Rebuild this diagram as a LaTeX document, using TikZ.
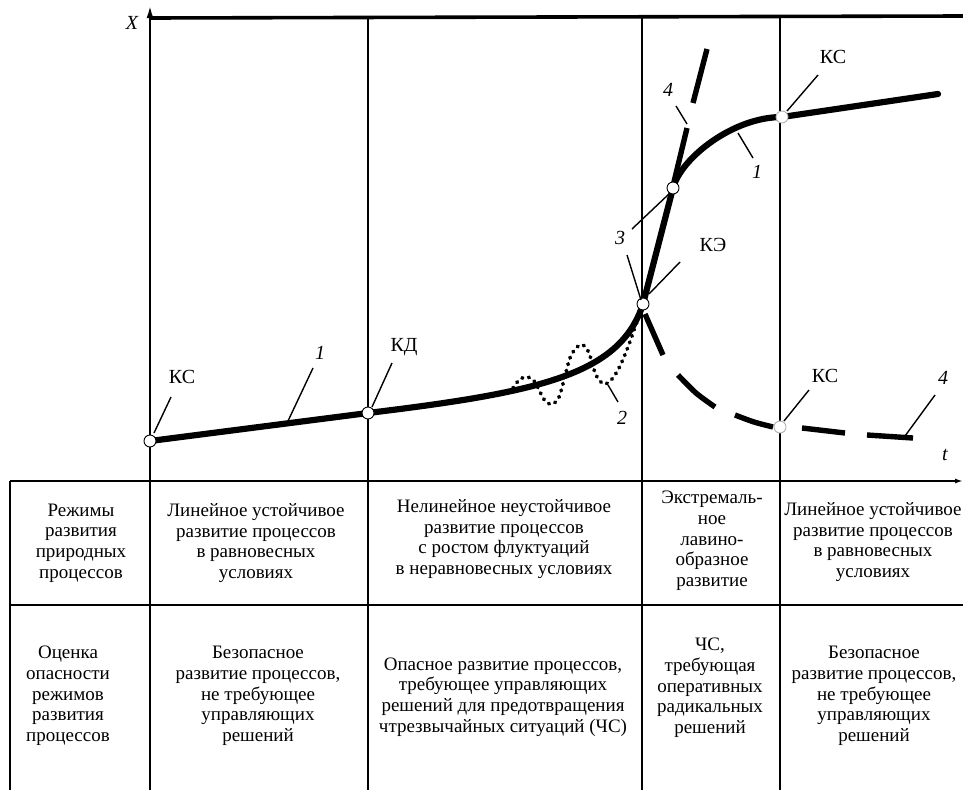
\documentclass[tikz,border=0pt]{standalone}
\usepackage{fontspec}
\setmainfont{Liberation Serif}
\usetikzlibrary{arrows.meta}
\begin{document}
\begin{tikzpicture}[x=1pt,y=-1pt,
  framel/.style={line width=1.9pt},
  tbl/.style={line width=2.3pt},
  topl/.style={line width=3.6pt},
  thickcurve/.style={line width=6.2pt, line cap=round, line join=round},
  dashseg/.style={line width=5.4pt},
  dotcurve/.style={line width=3.8pt, line cap=round, dash pattern=on 0.8pt off 6pt},
  leader/.style={line width=1.4pt},
  pnt/.style={circle, draw, fill=white, line width=0.9pt, minimum size=12pt, inner sep=0pt},
  lbl/.style={font=\fontsize{20}{21}\selectfont, inner sep=0pt},
  num/.style={font=\fontsize{20}{21}\selectfont\itshape, inner sep=0pt},
  cell/.style={align=center, font=\fontsize{19}{20.7}\selectfont, inner sep=0pt}]
\useasboundingbox (0,0) rectangle (963,790);

% frame
\coordinate (axB) at (150,790);
\coordinate (axT) at (150,6);
\coordinate (topL) at (150,18);
\coordinate (topR) at (963,16);
\draw[topl] (topL) -- (topR);
\draw[framel,-{Latex[length=12pt,width=7pt]}] (axB) -- (axT);
\coordinate (v1t) at (368,18); \coordinate (v1b) at (368,790);
\coordinate (v2t) at (642,17); \coordinate (v2b) at (642,790);
\coordinate (v3t) at (780,17); \coordinate (v3b) at (780,790);
\draw[framel] (v1t) -- (v1b);
\draw[framel] (v2t) -- (v2b);
\draw[framel] (v3t) -- (v3b);
% table
\coordinate (h1l) at (10,481); \coordinate (h1r) at (963,481);
\coordinate (h2l) at (10,605); \coordinate (h2r) at (963,605);
\coordinate (lb) at (10,790);
\draw[tbl,-{Latex[length=8pt,width=5pt]}] (h1l) -- (h1r);
\draw[tbl] (h2l) -- (h2r);
\draw[tbl] (h1l) -- (lb);

% curves
\coordinate (KS1c) at (150,441);
\coordinate (KDc) at (368,413);
\coordinate (KEc) at (643,304);
\coordinate (P3c) at (673,188);
\coordinate (KS2c) at (782,117);
\coordinate (KS3c) at (780,427);
\coordinate (endR) at (938,94);

\draw[thickcurve] (KS1c) -- (KDc);
\draw[thickcurve] (KDc) .. controls (540,392) and (620,375) .. (KEc);
\draw[thickcurve] (KEc) -- (P3c);
\draw[thickcurve] (P3c) .. controls (681,158) and (733,117) .. (KS2c);
\draw[thickcurve] (KS2c) -- (endR);

% dotted curve 2
\draw[dotcurve] plot[smooth, tension=0.55] coordinates {(513,388) (520,379) (528,377) (535,382) (540,392) (546,402) (553,404) (559,397) (564,380) (570,358) (577,347) (583,345) (589,353) (596,375) (604,384) (612,379) (620,366) (628,347) (635,327) (641,310)};

% dashed curve 4 (lower)
\draw[dashseg] (645,314) -- (663,355);
\draw[dashseg] plot[smooth] coordinates {(678,375) (696,393) (715,407)};
\draw[dashseg] plot[smooth] coordinates {(735,415) (754,422) (773,427)};
\draw[dashseg] (802,428) -- (845,433);
\draw[dashseg] (867,435) -- (913,438);
% dashed curve 4 (upper)
\draw[dashseg] (673,186) -- (687,128);
\draw[dashseg] (693,103) -- (707,49);

% points
\node[pnt] (KS1) at (KS1c) {};
\node[pnt] (KD) at (KDc) {};
\node[pnt] (KE) at (KEc) {};
\node[pnt] (P3) at (P3c) {};
\node[pnt, draw=gray!60] (KS2) at (KS2c) {};
\node[pnt, draw=gray!60] (KS3) at (KS3c) {};

% labels
\node[num] (Xl) at (132,23) {X};
\node[num] (tl) at (945,455) {t};
\node[lbl] (lKS1) at (182,377) {КС};
\node[num] (l1a) at (320,353) {1};
\node[lbl] (lKD) at (404,347) {КД};
\node[num] (l2) at (622,418) {2};
\node[num] (l3) at (620,238) {3};
\node[num] (l4a) at (668,90) {4};
\node[num] (l1b) at (757,172) {1};
\node[lbl] (lKE) at (713,245) {КЭ};
\node[lbl] (lKS2) at (833,57) {КС};
\node[lbl] (lKS3) at (825,376) {КС};
\node[num] (l4b) at (943,378) {4};

% leaders
\coordinate (a1) at (171,397); \coordinate (a1e) at (154,433);
\draw[leader] (a1) -- (a1e);
\coordinate (b1) at (313,368); \coordinate (b1e) at (288,421);
\draw[leader] (b1) -- (b1e);
\coordinate (c1) at (392,363); \coordinate (c1e) at (372,407);
\draw[leader] (c1) -- (c1e);
\coordinate (d1) at (608,385); \coordinate (d1e) at (618,402);
\draw[leader] (d1e) -- (d1);
\coordinate (e1) at (632,229); \coordinate (e1e) at (670,193);
\draw[leader] (e1) -- (e1e);
\coordinate (e2) at (627,255); \coordinate (e2e) at (641,300);
\draw[leader] (e2) -- (e2e);
\coordinate (f1) at (676,106); \coordinate (f1e) at (687,124);
\draw[leader] (f1) -- (f1e);
\coordinate (g1) at (738,133); \coordinate (g1e) at (753,158);
\draw[leader] (g1) -- (g1e);
\coordinate (h1) at (680,262); \coordinate (h1e) at (649,294);
\draw[leader] (h1) -- (h1e);
\coordinate (i1) at (818,75); \coordinate (i1e) at (787,111);
\draw[leader] (i1) -- (i1e);
\coordinate (j1) at (809,390); \coordinate (j1e) at (784,421);
\draw[leader] (j1) -- (j1e);
\coordinate (k1) at (935,395); \coordinate (k1e) at (905,436);
\draw[leader] (k1) -- (k1e);

% table text
\node[cell] (r1c1) at (81,543) {Режимы\\развития\\природных\\процессов};
\node[cell] (r1c2) at (256,543) {Линейное устойчивое\\развитие процессов\\в равновесных\\условиях};
\node[cell] (r1c3) at (504,539) {Нелинейное неустойчивое\\развитие процессов\\с ростом флуктуаций\\в неравновесных условиях};
\node[cell] (r1c4) at (712,541) {Экстремаль-\\ное\\лавино-\\образное\\развитие};
\node[cell] (r1c5) at (873,542) {Линейное устойчивое\\развитие процессов\\в равновесных\\условиях};
\node[cell] (r2c1) at (68,696) {Оценка\\опасности\\режимов\\развития\\процессов};
\node[cell] (r2c2) at (258,696) {Безопасное\\развитие процессов,\\не требующее\\управляющих\\решений};
\node[cell] (r2c3) at (503,697) {Опасное развитие процессов,\\требующее управляющих\\решений для предотвращения\\чтрезвычайных ситуаций (ЧС)};
\node[cell] (r2c4) at (710,688) {ЧС,\\требующая\\оперативных\\радикальных\\решений};
\node[cell] (r2c5) at (874,696) {Безопасное\\развитие процессов,\\не требующее\\управляющих\\решений};
\end{tikzpicture}
\end{document}
